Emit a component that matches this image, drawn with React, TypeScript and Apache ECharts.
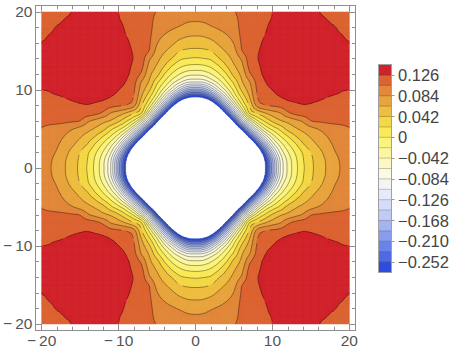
import React, { useEffect, useRef } from "react";
import * as echarts from "echarts";

// ---- data ----
const contourLevels = [
  -0.273, -0.252, -0.231, -0.21, -0.189, -0.168, -0.147, -0.126, -0.105, -0.084,
  -0.063, -0.042, -0.021, 0, 0.021, 0.042, 0.063, 0.084, 0.105, 0.126, 0.147,
];
const bandColors = [
  "#2e4cdf", "#4f6ae3", "#6a83e8", "#879dec", "#a3b5f1", "#bdcbf5", "#d3ddf9", "#e6ebfb",
  "#f3f5f4", "#fafae5", "#fcf8c6", "#fcf6a2", "#fbf47c", "#f9ea5b", "#f4d846", "#eebe40",
  "#e8a43e", "#e1883a", "#dc6432", "#d1232b",
];
const legendTickValues = [-0.252, -0.21, -0.168, -0.126, -0.084, -0.042, 0, 0.042, 0.084, 0.126];
const frameMajorTicks = [-20, -10, 0, 10, 20];
const frameMinorTicks = [-18, -16, -14, -12, -8, -6, -4, -2, 2, 4, 6, 8, 12, 14, 16, 18];
const sampleCoords = [
  -20, -19, -18, -17, -16, -15, -14, -13, -12, -11, -10, -9, -8, -7, -6, -5, -4, -3, -2, -1, 0,
  1, 2, 3, 4, 5, 6, 7, 8, 9, 10, 11, 12, 13, 14, 15, 16, 17, 18, 19, 20,
];
// field values in one octant (row y = j, x = j..20); the plot has the square's symmetry
const octantRows: number[][] = [
  [-1.64, -1.49, -1.34, -1.19, -1.04, -0.888, -0.738, -0.588, -0.438, -0.283, -0.178, -0.085, -0.038, -0.007, 0.018, 0.037, 0.051, 0.064, 0.076, 0.086, 0.092],
  [-1.386, -1.26, -1.13, -0.994, -0.852, -0.708, -0.564, -0.418, -0.274, -0.171, -0.082, -0.036, -0.005, 0.02, 0.038, 0.052, 0.065, 0.077, 0.087, 0.093],
  [-1.134, -1.011, -0.886, -0.758, -0.625, -0.489, -0.35, -0.228, -0.13, -0.06, -0.023, 0.003, 0.024, 0.042, 0.056, 0.07, 0.082, 0.09, 0.096],
  [-0.88, -0.76, -0.63, -0.51, -0.383, -0.258, -0.161, -0.078, -0.034, -0.004, 0.018, 0.04, 0.054, 0.066, 0.077, 0.086, 0.093, 0.099],
  [-0.63, -0.509, -0.385, -0.259, -0.163, -0.085, -0.035, -0.003, 0.019, 0.04, 0.054, 0.065, 0.075, 0.083, 0.09, 0.096, 0.101],
  [-0.38, -0.259, -0.152, -0.075, -0.022, 0.006, 0.026, 0.049, 0.06, 0.069, 0.077, 0.085, 0.091, 0.096, 0.1, 0.104],
  [-0.13, -0.06, -0.006, 0.023, 0.045, 0.06, 0.068, 0.077, 0.087, 0.104, 0.107, 0.109, 0.11, 0.11, 0.11],
  [0.02, 0.042, 0.06, 0.073, 0.082, 0.1, 0.11, 0.114, 0.116, 0.118, 0.119, 0.119, 0.118, 0.117],
  [0.09, 0.103, 0.107, 0.111, 0.118, 0.122, 0.125, 0.1245, 0.1235, 0.122, 0.121, 0.12, 0.119],
  [0.115, 0.12, 0.125, 0.129, 0.131, 0.131, 0.129, 0.128, 0.126, 0.1235, 0.1225, 0.122],
  [0.1262, 0.13, 0.133, 0.135, 0.136, 0.136, 0.135, 0.133, 0.131, 0.127, 0.126],
  [0.132, 0.136, 0.138, 0.139, 0.139, 0.138, 0.136, 0.134, 0.132, 0.13],
  [0.137, 0.14, 0.141, 0.141, 0.14, 0.138, 0.136, 0.134, 0.132],
  [0.14, 0.142, 0.142, 0.141, 0.139, 0.137, 0.134, 0.132],
  [0.141, 0.141, 0.14, 0.138, 0.136, 0.133, 0.131],
  [0.14, 0.139, 0.137, 0.134, 0.131, 0.129],
  [0.137, 0.135, 0.132, 0.129, 0.1265],
  [0.132, 0.129, 0.1265, 0.123],
  [0.127, 0.123, 0.12],
  [0.122, 0.119],
  [0.118],
];

// ---- layout ----
const FRAME = { left: 35.5, top: 5.7, width: 320, height: 324.5 };
const PAD = 0.8;
const LEG = { left: 378.5, top: 64.5, width: 13, height: 208 };
const frameColor = "#8e8e8e";
const labelColor = "#555555";
const fontFamily = "'Liberation Sans', Arial, sans-serif";
const lineColor = "rgba(0,0,0,0.42)";
const SUB = 3; // smooth (Catmull-Rom) drawing between the sampled values

function valueAt(x: number, y: number): number {
  const ax = Math.abs(x);
  const ay = Math.abs(y);
  const a = Math.max(ax, ay);
  const b = Math.min(ax, ay);
  return octantRows[b][a - b];
}

// sampled grid and its smooth refinement used for drawing
const N = sampleCoords.length;
const coarse: number[][] = sampleCoords.map((y) => sampleCoords.map((x) => valueAt(x, y)));
const cg = (i: number, j: number) =>
  coarse[Math.min(N - 1, Math.max(0, j))][Math.min(N - 1, Math.max(0, i))];
const crw = (t: number) => [
  (-t * t * t + 2 * t * t - t) / 2,
  (3 * t * t * t - 5 * t * t + 2) / 2,
  (-3 * t * t * t + 4 * t * t + t) / 2,
  (t * t * t - t * t) / 2,
];
const M = (N - 1) * SUB + 1;
const fineX: number[] = [];
for (let ii = 0; ii < M; ii++) {
  const i = Math.floor(ii / SUB);
  const t = (ii % SUB) / SUB;
  fineX.push(i < N - 1 ? sampleCoords[i] + t * (sampleCoords[i + 1] - sampleCoords[i]) : sampleCoords[N - 1]);
}
const fine: number[][] = [];
for (let jj = 0; jj < M; jj++) {
  const j = Math.floor(jj / SUB);
  const wy = crw((jj % SUB) / SUB);
  const row: number[] = [];
  for (let ii = 0; ii < M; ii++) {
    const i = Math.floor(ii / SUB);
    const wx = crw((ii % SUB) / SUB);
    let s = 0;
    for (let b = 0; b < 4; b++) {
      if (wy[b] === 0) continue;
      for (let a = 0; a < 4; a++) {
        if (wx[a] === 0) continue;
        s += wy[b] * wx[a] * cg(i - 1 + a, j - 1 + b);
      }
    }
    row.push(s);
  }
  fine.push(row);
}

type P = [number, number, number];

function clip(poly: P[], level: number, keepAbove: boolean): P[] {
  const out: P[] = [];
  for (let i = 0; i < poly.length; i++) {
    const a = poly[i];
    const b = poly[(i + 1) % poly.length];
    const ina = keepAbove ? a[2] >= level : a[2] <= level;
    const inb = keepAbove ? b[2] >= level : b[2] <= level;
    if (ina) out.push(a);
    if (ina !== inb) {
      const t = (level - a[2]) / (b[2] - a[2]);
      out.push([a[0] + t * (b[0] - a[0]), a[1] + t * (b[1] - a[1]), level]);
    }
  }
  return out;
}

function bandOf(v: number): number {
  if (v < contourLevels[0]) return -1;
  let k = 0;
  while (k < bandColors.length - 1 && v >= contourLevels[k + 1]) k++;
  return k;
}

const renderField = (_params: any, api: any) => {
  const nb = bandColors.length;
  const bandPaths: string[][] = bandColors.map(() => []);
  const linePaths: string[][] = contourLevels.map(() => []);
  const pix: number[][][] = [];
  for (let jj = 0; jj < M; jj++) {
    const r: number[][] = [];
    for (let ii = 0; ii < M; ii++) r.push(api.coord([fineX[ii], fineX[jj]]));
    pix.push(r);
  }
  const toPix = (p: P) => {
    const c = api.coord([p[0], p[1]]);
    return c[0].toFixed(2) + " " + c[1].toFixed(2);
  };
  const addPoly = (k: number, poly: P[]) => {
    bandPaths[k].push("M" + poly.map(toPix).join("L") + "Z");
  };
  for (let j = 0; j < N - 1; j++) {
    for (let i = 0; i < N - 1; i++) {
      let vmin = Infinity;
      let vmax = -Infinity;
      for (let jj = j * SUB; jj <= (j + 1) * SUB; jj++)
        for (let ii = i * SUB; ii <= (i + 1) * SUB; ii++) {
          const v = fine[jj][ii];
          if (v < vmin) vmin = v;
          if (v > vmax) vmax = v;
        }
      if (vmax < contourLevels[0]) continue;
      const kmin = bandOf(vmin);
      const kmax = bandOf(vmax);
      if (kmin === kmax && kmin >= 0) {
        const a = pix[j * SUB][i * SUB];
        const b = pix[(j + 1) * SUB][(i + 1) * SUB];
        bandPaths[kmin].push(
          "M" + a[0].toFixed(2) + " " + a[1].toFixed(2) + "L" + b[0].toFixed(2) + " " + a[1].toFixed(2) +
            "L" + b[0].toFixed(2) + " " + b[1].toFixed(2) + "L" + a[0].toFixed(2) + " " + b[1].toFixed(2) + "Z"
        );
        continue;
      }
      for (let jj = j * SUB; jj < (j + 1) * SUB; jj++) {
        for (let ii = i * SUB; ii < (i + 1) * SUB; ii++) {
          const x0 = fineX[ii];
          const x1 = fineX[ii + 1];
          const y0 = fineX[jj];
          const y1 = fineX[jj + 1];
          const p00: P = [x0, y0, fine[jj][ii]];
          const p10: P = [x1, y0, fine[jj][ii + 1]];
          const p01: P = [x0, y1, fine[jj + 1][ii]];
          const p11: P = [x1, y1, fine[jj + 1][ii + 1]];
          const same = (x0 + x1) * (y0 + y1) > 0;
          const tris: P[][] = same
            ? [[p00, p10, p01], [p10, p11, p01]]
            : [[p00, p10, p11], [p00, p11, p01]];
          for (const tri of tris) {
            const tmin = Math.min(tri[0][2], tri[1][2], tri[2][2]);
            const tmax = Math.max(tri[0][2], tri[1][2], tri[2][2]);
            if (tmax < contourLevels[0]) continue;
            for (let k = 0; k < nb; k++) {
              const lo = contourLevels[k];
              const hi = k === nb - 1 ? Infinity : contourLevels[k + 1];
              if (tmax < lo || tmin > hi) continue;
              let poly = clip(tri, lo, true);
              if (poly.length < 3) continue;
              if (hi !== Infinity) poly = clip(poly, hi, false);
              if (poly.length < 3) continue;
              addPoly(k, poly);
            }
            for (let k = 1; k < contourLevels.length - 1; k++) {
              const L = contourLevels[k];
              if (L <= tmin || L >= tmax) continue;
              const pts: string[] = [];
              for (let e = 0; e < 3; e++) {
                const a = tri[e];
                const b = tri[(e + 1) % 3];
                if ((a[2] - L) * (b[2] - L) < 0) {
                  const t = (L - a[2]) / (b[2] - a[2]);
                  pts.push(toPix([a[0] + t * (b[0] - a[0]), a[1] + t * (b[1] - a[1]), L]));
                }
              }
              if (pts.length === 2) linePaths[k].push("M" + pts[0] + "L" + pts[1]);
            }
          }
        }
      }
    }
  }
  const children: any[] = [];
  bandPaths.forEach((parts, k) => {
    if (!parts.length) return;
    children.push({
      type: "path",
      shape: { pathData: parts.join("") },
      style: { fill: bandColors[k], stroke: bandColors[k], lineWidth: 0.5 },
    });
  });
  linePaths.forEach((parts) => {
    if (!parts.length) return;
    children.push({
      type: "path",
      shape: { pathData: parts.join("") },
      style: { fill: "none", stroke: lineColor, lineWidth: 0.85 },
    });
  });
  return { type: "group", children };
};

const legendBands = bandColors.map((_, k) => [k]);

const renderLegend = (_params: any, api: any) => {
  const k = api.value(0);
  const lo = contourLevels[k];
  const hi = contourLevels[k + 1];
  const a = api.coord([0, hi]);
  const b = api.coord([1, lo]);
  const children: any[] = [
    {
      type: "rect",
      shape: { x: a[0], y: a[1], width: b[0] - a[0], height: b[1] - a[1] },
      style: { fill: bandColors[k], stroke: bandColors[k], lineWidth: 0.5 },
    },
  ];
  if (k > 0) {
    children.push({
      type: "line",
      shape: { x1: a[0], y1: b[1], x2: b[0], y2: b[1] },
      style: { stroke: "rgba(0,0,0,0.28)", lineWidth: 0.8 },
    });
  }
  return { type: "group", children };
};

const fmtFrame = (v: number) => (v < 0 ? "\u2212\u2009" + Math.abs(v) : String(v));
const fmtLegend = (v: number) =>
  Math.abs(v) < 1e-9 ? "0" : (v < 0 ? "\u2212" : "") + Math.abs(v).toFixed(3);

function frameAxis(
  position: string,
  ticks: number[],
  len: number,
  withLine: boolean,
  withLabels: boolean,
  margin: number
) {
  return {
    type: "value",
    gridIndex: 0,
    min: -20 - PAD,
    max: 20 + PAD,
    position,
    axisLine: { show: withLine, onZero: false, lineStyle: { color: frameColor, width: 1 } },
    axisTick: { show: true, inside: true, length: len, customValues: ticks, lineStyle: { color: frameColor, width: 1 } },
    axisLabel: withLabels
      ? {
          show: true,
          customValues: ticks,
          formatter: fmtFrame,
          color: labelColor,
          fontSize: 15.5,
          fontFamily,
          margin,
        }
      : { show: false },
    splitLine: { show: false },
  };
}

const option: any = {
  animation: false,
  backgroundColor: "#ffffff",
  grid: [
    { left: FRAME.left, top: FRAME.top, width: FRAME.width, height: FRAME.height },
    { left: LEG.left, top: LEG.top, width: LEG.width, height: LEG.height },
  ],
  xAxis: [
    frameAxis("bottom", frameMajorTicks, 6, true, true, 2),
    frameAxis("bottom", frameMinorTicks, 3.5, false, false, 0),
    frameAxis("top", frameMajorTicks, 6, true, false, 0),
    frameAxis("top", frameMinorTicks, 3.5, false, false, 0),
    { type: "value", gridIndex: 1, min: 0, max: 1, show: false },
  ],
  yAxis: [
    frameAxis("left", frameMajorTicks, 6, true, true, 3),
    frameAxis("left", frameMinorTicks, 3.5, false, false, 0),
    frameAxis("right", frameMajorTicks, 6, true, false, 0),
    frameAxis("right", frameMinorTicks, 3.5, false, false, 0),
    {
      type: "value",
      gridIndex: 1,
      min: contourLevels[0],
      max: contourLevels[contourLevels.length - 1],
      position: "right",
      axisLine: { show: false, onZero: false },
      axisTick: { show: true, inside: false, length: 3, customValues: legendTickValues, lineStyle: { color: "#999999" } },
      axisLabel: {
        show: true,
        customValues: legendTickValues,
        formatter: fmtLegend,
        color: "#444444",
        fontSize: 16.5,
        fontFamily,
        margin: 6.5,
      },
      splitLine: { show: false },
    },
  ],
  series: [
    {
      type: "custom",
      name: "field",
      xAxisIndex: 0,
      yAxisIndex: 0,
      data: [[0, 0]],
      renderItem: renderField,
      silent: true,
      clip: true,
      z: 1,
    },
    {
      type: "custom",
      name: "legend",
      xAxisIndex: 4,
      yAxisIndex: 4,
      data: legendBands,
      renderItem: renderLegend,
      silent: true,
      z: 1,
    },
  ],
  graphic: [
    {
      type: "rect",
      z: 10,
      shape: { x: LEG.left, y: LEG.top, width: LEG.width, height: LEG.height },
      style: { fill: "none", stroke: "#a0a0a0", lineWidth: 1 },
      silent: true,
    },
  ],
};

export default function App() {
  const ref = useRef<HTMLDivElement>(null);
  useEffect(() => {
    if (!ref.current) return;
    const chart = echarts.init(ref.current, null, { renderer: "svg" });
    chart.setOption(option);
    return () => chart.dispose();
  }, []);
  return (
    <div
      ref={ref}
      style={{ position: "absolute", left: 0, top: 0, width: 461, height: 352, background: "#fff" }}
    />
  );
}
